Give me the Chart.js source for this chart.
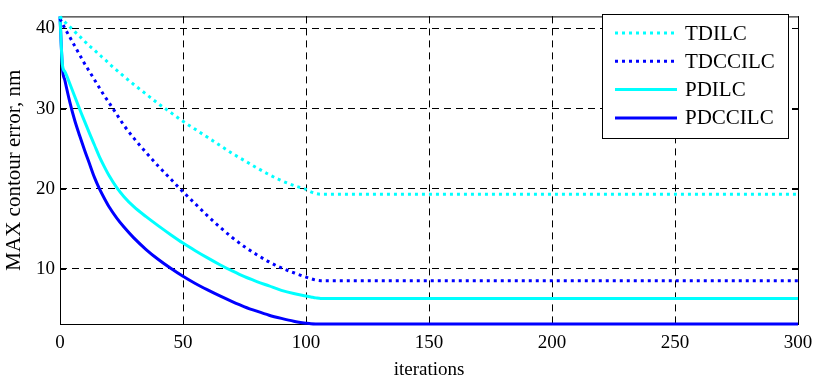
<!DOCTYPE html>
<html>
<head>
<meta charset="utf-8">
<script src="https://cdn.jsdelivr.net/npm/chart.js@4.4.0/dist/chart.umd.min.js"></script>
<style>
  html, body { margin: 0; padding: 0; background: #fff; }
  #grafico { display: block; }
</style>
</head>
<body>
<canvas id="grafico" width="821" height="382"></canvas>
<script>
// dados
const iteracoes = [0, 1, 2, 4, 6, 8, 10, 12, 14, 16, 18, 20, 23, 26, 30, 35, 40, 45, 50, 55, 60, 65, 70, 75, 80, 85, 90, 95, 100, 102, 104, 106, 300];
const tdilc   = [41.5, 41.1, 40.8, 40.2, 39.6, 39.0, 38.4, 37.8, 37.3, 36.7, 36.2, 35.6, 34.8, 34.0, 33.0, 31.8, 30.6, 29.5, 28.4, 27.4, 26.4, 25.4, 24.4, 23.5, 22.6, 21.75, 21.0, 20.4, 19.9, 19.6, 19.38, 19.3, 19.3];
const tdccilc = [41.2, 40.6, 40.0, 38.9, 37.8, 36.7, 35.6, 34.6, 33.6, 32.6, 31.6, 30.7, 29.3, 27.9, 26.3, 24.5, 22.8, 21.2, 19.6, 18.1, 16.6, 15.2, 13.9, 12.75, 11.75, 10.85, 10.1, 9.5, 8.95, 8.75, 8.58, 8.5, 8.5];
const pdilc   = [41.5, 35.4, 34.6, 33.1, 31.5, 29.9, 28.4, 26.9, 25.45, 24.0, 22.75, 21.6, 20.15, 19.0, 17.75, 16.5, 15.35, 14.25, 13.2, 12.25, 11.35, 10.5, 9.72, 9.0, 8.4, 7.85, 7.3, 6.9, 6.6, 6.48, 6.36, 6.28, 6.28];
const pdccilc = [41.5, 35.0, 33.5, 30.8, 28.5, 26.6, 24.8, 23.1, 21.4, 20.0, 18.8, 17.7, 16.35, 15.2, 13.85, 12.4, 11.15, 10.05, 9.05, 8.15, 7.35, 6.6, 5.9, 5.25, 4.7, 4.2, 3.8, 3.45, 3.2, 3.12, 3.1, 3.1, 3.1];

const ticksX = [0, 50, 100, 150, 200, 250, 300];
const ticksY = [10, 20, 30, 40];

const fonte = "'Liberation Serif', 'Times New Roman', serif";
Chart.defaults.font.family = fonte;
Chart.defaults.color = '#000';

function serie(valores) {
    return iteracoes.map((it, i) => ({ x: it, y: valores[i] }));
}

// moldura do eixo (estilo matlab) com marcas internas
const molduraPlugin = {
    id: 'moldura',
    beforeDatasetsDraw(chart) {
        const { ctx, chartArea: a, scales } = chart;
        ctx.save();
        ctx.strokeStyle = '#000';
        ctx.lineWidth = 1;
        ctx.setLineDash([]);
        ctx.strokeRect(a.left + 0.5, a.top + 0.5, a.right - a.left, a.bottom - a.top);
        ctx.beginPath();
        ticksX.forEach(v => {
            const px = Math.round(scales.x.getPixelForValue(v)) + 0.5;
            ctx.moveTo(px, a.top); ctx.lineTo(px, a.top + 6);
            ctx.moveTo(px, a.bottom); ctx.lineTo(px, a.bottom - 6);
        });
        ticksY.forEach(v => {
            const py = Math.round(scales.y.getPixelForValue(v)) + 0.5;
            ctx.moveTo(a.left, py); ctx.lineTo(a.left + 6, py);
            ctx.moveTo(a.right, py); ctx.lineTo(a.right - 6, py);
        });
        ctx.stroke();
        ctx.restore();
    }
};

// legenda desenhada dentro da area do grafico
const legendaPlugin = {
    id: 'legenda',
    afterDraw(chart) {
        const ctx = chart.ctx;
        const x0 = 602, y0 = 14, w = 186, h = 124;
        ctx.save();
        ctx.fillStyle = '#fff';
        ctx.fillRect(x0, y0, w, h);
        ctx.strokeStyle = '#000';
        ctx.lineWidth = 1;
        ctx.strokeRect(x0 + 0.5, y0 + 0.5, w, h);
        chart.data.datasets.forEach((ds, i) => {
            const y = 33 + i * 28.3;
            ctx.strokeStyle = ds.borderColor;
            ctx.lineWidth = ds.borderWidth;
            ctx.setLineDash(ds.borderDash || []);
            ctx.beginPath();
            ctx.moveTo(615, y);
            ctx.lineTo(677, y);
            ctx.stroke();
            ctx.setLineDash([]);
            ctx.fillStyle = '#000';
            ctx.font = '21px ' + fonte;
            ctx.textBaseline = 'middle';
            ctx.fillText(ds.label, 685, y + 1);
        });
        ctx.restore();
    }
};

const ctx = document.getElementById('grafico').getContext('2d');

new Chart(ctx, {
    type: 'line',
    data: {
        datasets: [
            { label: 'TDILC', data: serie(tdilc), borderColor: '#00FFFF', borderWidth: 3, borderDash: [3, 4] },
            { label: 'TDCCILC', data: serie(tdccilc), borderColor: '#0000FF', borderWidth: 3, borderDash: [3, 4] },
            { label: 'PDILC', data: serie(pdilc), borderColor: '#00FFFF', borderWidth: 3 },
            { label: 'PDCCILC', data: serie(pdccilc), borderColor: '#0000FF', borderWidth: 3 }
        ]
    },
    options: {
        responsive: false,
        animation: false,
        events: [],
        layout: { padding: { top: 5, right: 23, left: 0, bottom: 0 } },
        elements: {
            point: { radius: 0 },
            line: { tension: 0, cubicInterpolationMode: 'monotone', borderCapStyle: 'butt' }
        },
        datasets: { line: { clip: false } },
        plugins: {
            legend: { display: false },
            tooltip: { enabled: false }
        },
        scales: {
            x: {
                type: 'linear',
                min: 0,
                max: 300,
                afterBuildTicks: s => { s.ticks = ticksX.map(v => ({ value: v })); },
                afterFit: s => { s.height = 58; },
                grid: { color: '#000', lineWidth: 1, drawTicks: false },
                border: { display: false, dash: [7, 5] },
                ticks: { font: { family: fonte, size: 19 }, padding: 8, maxRotation: 0 },
                title: { display: true, text: 'iterations', font: { family: fonte, size: 19 }, padding: { top: 0, bottom: 1 } }
            },
            y: {
                type: 'linear',
                min: 3.1,
                max: 41.5,
                afterBuildTicks: s => { s.ticks = ticksY.map(v => ({ value: v })); },
                afterFit: s => { s.width = 60; },
                grid: { color: '#000', lineWidth: 1, drawTicks: false },
                border: { display: false, dash: [7, 5] },
                ticks: { font: { family: fonte, size: 19 }, padding: 5 },
                title: { display: true, text: 'MAX contour error, nm', font: { family: fonte, size: 21 }, padding: { top: 2, bottom: 0 } }
            }
        }
    },
    plugins: [molduraPlugin, legendaPlugin]
});
</script>
</body>
</html>
